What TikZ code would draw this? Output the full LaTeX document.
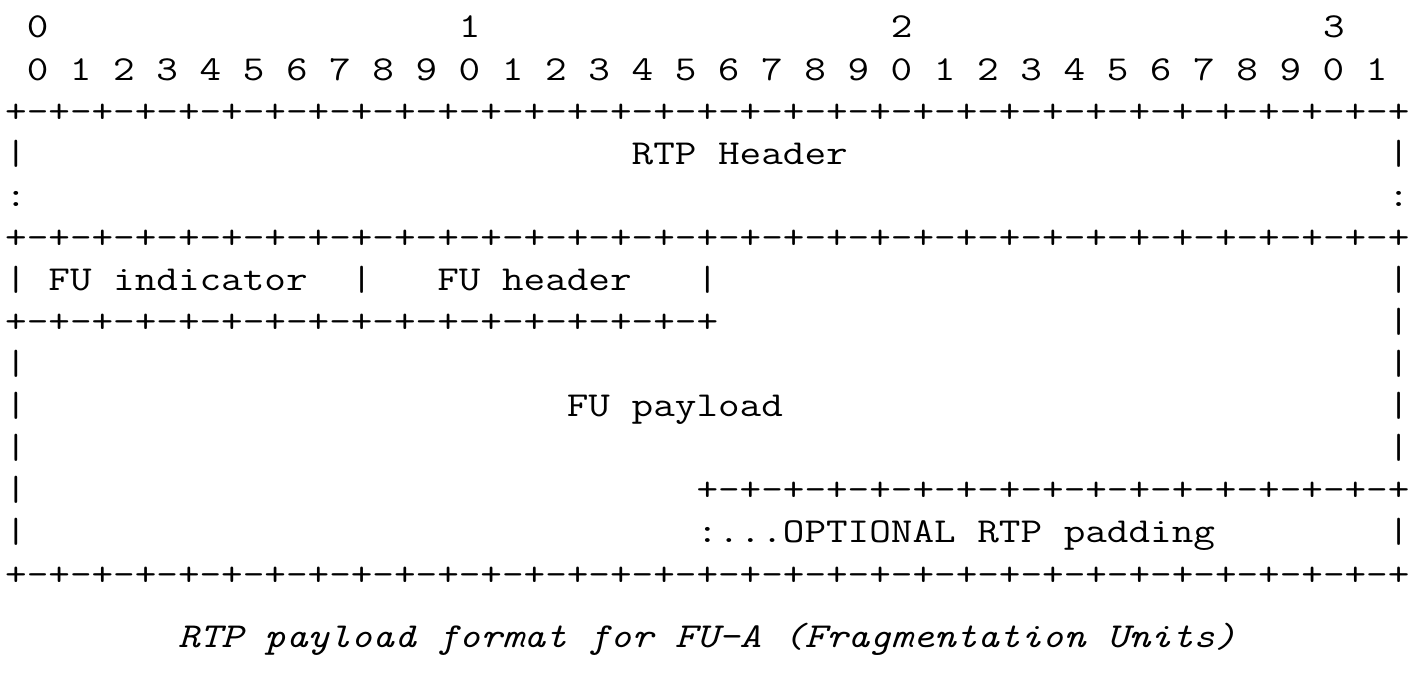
\documentclass[tikz,border=0pt]{standalone}
\usepackage{fontspec}
\usepackage{graphicx}
\newlength\cw
\newcommand\sps[1]{\hspace*{#1\cw}}
\newcommand\bl{\hspace*{\cw}}
% measure the real advance of the mono font in force, then stretch so one cell = 10.8018pt
\newcommand\row[1]{\setlength\cw{\fontcharwd\font`0}\scalebox{\fpeval{10.8018/\cw}}[1]{#1}}
\newcommand\pmline{+-+-+-+-+-+-+-+-+-+-+-+-+-+-+-+-+-+-+-+-+-+-+-+-+-+-+-+-+-+-+-+-+}
\newcommand\pmhalf{+-+-+-+-+-+-+-+-+-+-+-+-+-+-+-+-+}
\begin{document}
\begin{tikzpicture}[x=1pt,y=1pt,
  asciirow/.style={anchor=base west,inner sep=0pt,outer sep=0pt,text=black,
    font=\ttfamily\fontsize{17.5}{17.5}\selectfont},
  captionrow/.style={asciirow,font=\ttfamily\itshape\fontsize{17.5}{17.5}\selectfont}]
\useasboundingbox[fill=white] (0,0) rectangle (710,337);
\def\xo{2.6}
\node[asciirow] (r0) at (\xo,{337-19-21.04*0}) {\row{\sps{1}0\sps{19}1\sps{19}2\sps{19}3}};
\node[asciirow] (r1) at (\xo,{337-19-21.04*1}) {\row{\sps{1}0\bl1\bl2\bl3\bl4\bl5\bl6\bl7\bl8\bl9\bl0\bl1\bl2\bl3\bl4\bl5\bl6\bl7\bl8\bl9\bl0\bl1\bl2\bl3\bl4\bl5\bl6\bl7\bl8\bl9\bl0\bl1}};
\node[asciirow] (r2) at (\xo,{337-19-21.04*2}) {\row{\pmline}};
\node[asciirow] (r3) at (\xo,{337-19-21.04*3}) {\row{|\sps{28}RTP\bl Header\sps{25}|}};
\node[asciirow] (r4) at (\xo,{337-19-21.04*4}) {\row{:\sps{63}:}};
\node[asciirow] (r5) at (\xo,{337-19-21.04*5}) {\row{\pmline}};
\node[asciirow] (r6) at (\xo,{337-19-21.04*6}) {\row{|\bl FU\bl indicator\sps{2}|\sps{3}FU\bl header\sps{3}|\sps{31}|}};
\node[asciirow] (r7) at (\xo,{337-19-21.04*7}) {\row{\pmhalf\sps{31}|}};
\node[asciirow] (r8) at (\xo,{337-19-21.04*8}) {\row{|\sps{63}|}};
\node[asciirow] (r9) at (\xo,{337-19-21.04*9}) {\row{|\sps{25}FU\bl payload\sps{28}|}};
\node[asciirow] (r10) at (\xo,{337-19-21.04*10}) {\row{|\sps{63}|}};
\node[asciirow] (r11) at (\xo,{337-19-21.04*11}) {\row{|\sps{31}\pmhalf}};
\node[asciirow] (r12) at (\xo,{337-19-21.04*12}) {\row{|\sps{31}:...OPTIONAL\bl RTP\bl padding\sps{8}|}};
\node[asciirow] (r13) at (\xo,{337-19-21.04*13}) {\row{\pmline}};
\node[captionrow] (cap) at (\xo,13) {\row{\sps{8}RTP\bl payload\bl format\bl for\bl FU-A\bl (Fragmentation\bl Units)}};
\end{tikzpicture}
\end{document}
